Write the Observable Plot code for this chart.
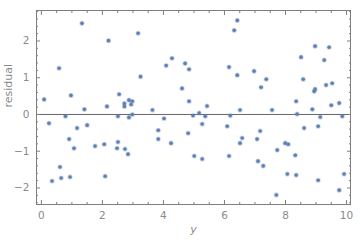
<!DOCTYPE html>
<html><head><meta charset="utf-8">
<script src="https://cdn.jsdelivr.net/npm/d3@7"></script>
<script src="https://cdn.jsdelivr.net/npm/@observablehq/plot@0.6"></script>
<style>body{margin:0;background:#fff}</style>
</head><body><div id="chart"></div>
<script>
const xs = [0.09,1.33,0.58,0.97,0.79,1.41,2.20,2.15,2.55,2.51,2.72,2.72,2.87,2.98,2.94,2.87,2.98,3.17,3.25,3.64,4.02,4.09,4.28,
  4.71,4.84,4.61,4.84,4.97,5.17,5.37,5.43,6.42,6.32,6.15,6.42,6.19,6.51,6.97,7.37,7.20,7.56,8.35,8.38,8.51,8.58,8.97,9.43,9.27,8.97,8.94,9.33,9.53,8.88,9.14,9.50,9.76,9.86,
  0.25,1.17,1.50,0.91,1.07,1.76,2.06,2.51,2.48,2.74,2.84,3.83,3.83,4.25,0.61,0.35,0.65,0.94,2.09,
  4.81,5.27,6.09,5.01,5.27,6.15,6.58,6.51,7.17,7.07,7.73,7.99,8.09,8.61,9.07,8.32,7.10,7.27,8.06,8.35,9.92,9.07,9.76,7.70];
const ys = [0.41,2.48,1.26,0.52,-0.05,0.14,2.01,0.22,0.55,-0.05,0.30,0.22,0.39,0.36,0.27,-0.08,0.00,2.21,1.03,0.12,-0.11,1.33,1.53,
  1.39,1.23,0.71,0.36,-0.03,0.04,-0.05,0.23,2.56,2.29,1.29,1.07,-0.03,0.12,1.18,0.96,0.74,0.12,0.36,0.01,1.56,0.96,1.86,1.83,1.48,0.69,0.63,0.80,0.85,0.14,-0.07,0.25,0.31,-0.05,
  -0.24,-0.37,-0.29,-0.67,-0.92,-0.86,-0.81,-0.75,-0.92,-0.94,-1.08,-0.43,-0.67,-0.78,-1.43,-1.81,-1.73,-1.70,-1.68,
  -0.51,-0.26,-0.32,-1.13,-1.21,-1.13,-0.64,-0.78,-0.45,-0.67,-0.97,-0.78,-0.81,-0.37,-0.32,-1.11,-1.27,-1.40,-1.62,-1.65,-1.62,-1.79,-2.06,-2.19];
const xMajor = [0,2,4,6,8,10];
const xMinor = d3.range(0,10.01,0.5).filter(v => Math.abs(v % 2) > 1e-6);
const yMajor = [-2,-1,0,1,2];
const yMinor = d3.range(-2.4,2.81,0.2).map(v => Math.round(v*10)/10).filter(v => Math.abs(v - Math.round(v)) > 1e-6);
const points = xs.map((x,i) => ({x, y: ys[i]}));

const gray = "#7f7f7f";
const labelColor = "#8a8a8a";
const none = () => "";
const fmt = d => d < 0 ? "\u2212" + Math.abs(d) : String(d);
const chart = Plot.plot({
  width: 360, height: 240,
  marginLeft: 36, marginRight: 10, marginTop: 10, marginBottom: 36,
  style: {fontFamily: "DejaVu Sans, sans-serif", fontSize: "10.5px", color: labelColor, background: "#fff"},
  x: {domain: [-0.16, 10.13]},
  y: {domain: [-2.45, 2.83]},
  marks: [
    Plot.ruleY([0], {stroke: "#666", strokeWidth: 1}),
    Plot.axisX({anchor: "bottom", ticks: xMajor, tickSize: -4, tickPadding: 11, tickFormat: fmt, label: null, stroke: gray, fill: labelColor}),
    Plot.axisX({anchor: "bottom", ticks: xMinor, tickSize: -2, tickFormat: none, label: null, stroke: gray}),
    Plot.axisX({anchor: "top", ticks: xMajor, tickSize: -4, tickFormat: none, label: null, stroke: gray}),
    Plot.axisX({anchor: "top", ticks: xMinor, tickSize: -2, tickFormat: none, label: null, stroke: gray}),
    Plot.axisY({anchor: "left", ticks: yMajor, tickSize: -4, tickPadding: 11, tickFormat: fmt, label: null, stroke: gray, fill: labelColor}),
    Plot.axisY({anchor: "left", ticks: yMinor, tickSize: -2, tickFormat: none, label: null, stroke: gray}),
    Plot.axisY({anchor: "right", ticks: yMajor, tickSize: -4, tickFormat: none, label: null, stroke: gray}),
    Plot.axisY({anchor: "right", ticks: yMinor, tickSize: -2, tickFormat: none, label: null, stroke: gray}),
    Plot.frame({stroke: gray, strokeWidth: 1}),
    Plot.dot(points, {x: "x", y: "y", r: 1.8, fill: "#5E81B5", stroke: "#5E81B5", strokeOpacity: 0.3, strokeWidth: 1.6}),
    Plot.text(["residual"], {frameAnchor: "left", dx: -28, rotate: -90, fill: labelColor, fontSize: 11}),
    Plot.text(["y"], {frameAnchor: "bottom", dy: 28, fill: labelColor, fontSize: 11, fontStyle: "italic"})
  ]
});
document.getElementById("chart").appendChild(chart);
</script>
</body></html>
